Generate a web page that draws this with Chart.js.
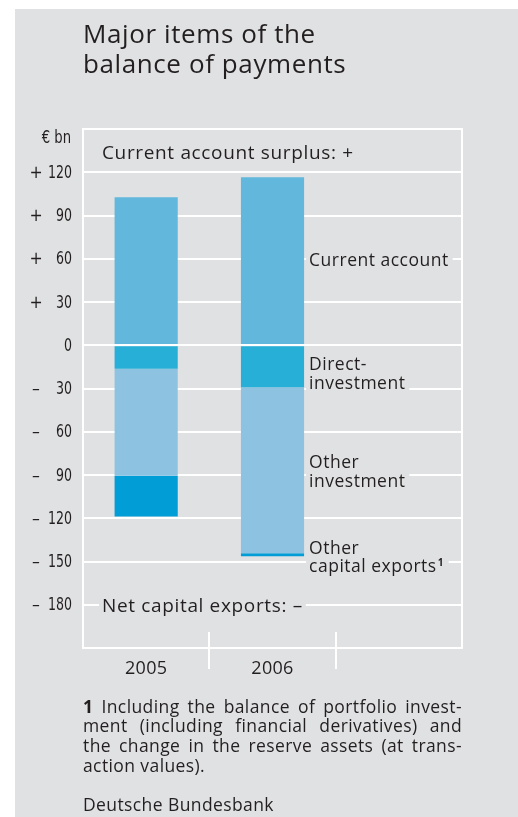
<!DOCTYPE html>
<html>
<head>
<meta charset="utf-8">
<script src="https://cdn.jsdelivr.net/npm/chart.js@4/dist/chart.umd.min.js"></script>
<style>
  html, body { margin: 0; padding: 0; background: #fff; }
  canvas { display: block; }
</style>
</head>
<body>
<canvas id="chart" width="518" height="817"></canvas>
<script>
// values in € bn
const years = ['2005', '2006', ''];
const currentAccount = [102.7, 116.5, null];
const directInvestment = [-16.3, -29.2, null];
const otherInvestment = [-74.3, -115, null];
const otherCapitalExports = [-28.2, -2.1, null];
const yTicks = [120, 90, 60, 30, 0, -30, -60, -90, -120, -150, -180];

const TEXT = '#231f20';
const PANEL = '#e0e1e3';
const SANS = '"Open Sans", "Noto Sans", sans-serif';
const NARROW = '"Liberation Sans Narrow", "DejaVu Sans Condensed", sans-serif';

const footLines = [
  '1 Including the balance of portfolio invest-',
  'ment (including financial derivatives) and',
  'the change in the reserve assets (at trans-',
  'action values).'
];

// labels next to the 2006 bar: gridline value they sit on, offset of first baseline
const seriesLabels = [
  { lines: ['Current account'], at: 60, dy: 7.5 },
  { lines: ['Direct-', 'investment'], at: -30, dy: -18.5 },
  { lines: ['Other', 'investment'], at: -90, dy: -7 },
  { lines: ['Other', 'capital exports'], at: -150, dy: -7.7, sup: '1' },
];

function hline(ctx, x1, x2, y) {
  ctx.beginPath();
  ctx.moveTo(x1, y);
  ctx.lineTo(x2, y);
  ctx.stroke();
}

function vline(ctx, x, y1, y2) {
  ctx.beginPath();
  ctx.moveTo(x, y1);
  ctx.lineTo(x, y2);
  ctx.stroke();
}

function setFont(ctx, font, spacing) {
  ctx.font = font;
  ctx.letterSpacing = (spacing || 0) + 'px';
}

// condensed text: squeeze horizontally around the anchor x
function narrowText(ctx, text, x, y, sx) {
  ctx.save();
  ctx.translate(x, y);
  ctx.scale(sx, 1);
  ctx.fillText(text, 0, 0);
  ctx.restore();
}

function justifyLine(ctx, text, x0, y, width, boldFirst, last) {
  const words = text.split(' ');
  const fontFor = (i) => (boldFirst && i === 0 ? 'bold ' : '') + '17.5px ' + SANS;
  const widths = words.map((w, i) => {
    setFont(ctx, fontFor(i), 0.4);
    return ctx.measureText(w).width;
  });
  const total = widths.reduce((s, w) => s + w, 0);
  setFont(ctx, fontFor(1), 0.4);
  let gap = ctx.measureText(' ').width;
  if (!last && words.length > 1) gap = Math.max(3, (width - total) / (words.length - 1));
  let x = x0;
  words.forEach((w, i) => {
    setFont(ctx, fontFor(i), 0.4);
    ctx.fillText(w, x, y);
    x += widths[i] + gap;
  });
}

const decor = {
  id: 'decor',
  beforeDraw(chart) {
    const ctx = chart.ctx;
    ctx.save();
    ctx.fillStyle = '#fff';
    ctx.fillRect(0, 0, chart.width, chart.height);
    ctx.fillStyle = PANEL;
    ctx.fillRect(15, 9, chart.width - 15, chart.height - 9);

    ctx.fillStyle = TEXT;
    ctx.textAlign = 'left';
    ctx.textBaseline = 'alphabetic';
    setFont(ctx, '26px ' + SANS, 0.6);
    ctx.fillText('Major items of the', 83, 43);
    ctx.fillText('balance of payments', 83, 73);
    setFont(ctx, '10px ' + SANS, 0);
    ctx.restore();
  },
  afterDatasetsDraw(chart) {
    const { ctx, chartArea: a, scales: { x, y } } = chart;
    ctx.save();
    ctx.strokeStyle = '#fff';
    ctx.lineWidth = 2;

    // zero line over the bars, frame sides
    hline(ctx, a.left, a.right, Math.round(y.getPixelForValue(0)));
    vline(ctx, a.left, a.top - 1, a.bottom + 1);
    vline(ctx, a.right, a.top - 1, a.bottom + 1);

    // category separators below the plot
    const half = (x.getPixelForValue(1) - x.getPixelForValue(0)) / 2;
    for (let i = 0; i < years.length - 1; i++) {
      const xx = Math.round(x.getPixelForValue(i) + half);
      vline(ctx, xx, a.bottom - 16, a.bottom + 21);
    }

    // y tick labels (condensed look)
    ctx.fillStyle = TEXT;
    setFont(ctx, '17.5px ' + NARROW, 0);
    ctx.textBaseline = 'middle';
    const sx = Math.min(1, 24 / ctx.measureText('120').width);
    yTicks.forEach((v) => {
      const py = y.getPixelForValue(v) + 1;
      ctx.textAlign = 'right';
      narrowText(ctx, String(Math.abs(v)), 72, py, sx);
      if (v !== 0) {
        ctx.textAlign = 'center';
        ctx.fillText(v > 0 ? '+' : '–', 36, py);
      }
    });
    ctx.textAlign = 'right';
    narrowText(ctx, '€ bn', 71, 138, Math.min(1, sx * 1.05));

    // year labels
    setFont(ctx, '18px ' + SANS, 0.3);
    ctx.textAlign = 'center';
    ctx.textBaseline = 'alphabetic';
    years.forEach((yr, i) => {
      if (yr) ctx.fillText(yr, x.getPixelForValue(i), 674);
    });

    // series labels beside the 2006 bar
    const bar = chart.getDatasetMeta(0).data[1];
    const barRight = bar.x + bar.width / 2;
    ctx.textAlign = 'left';
    const labFont = '17.5px ' + SANS;
    setFont(ctx, labFont, 0.5);
    seriesLabels.forEach((lab) => {
      const base = y.getPixelForValue(lab.at) + lab.dy;
      let w = Math.max(...lab.lines.map((l) => ctx.measureText(l).width));
      if (lab.sup) w += 8;
      const last = base + (lab.lines.length - 1) * 18.5;
      ctx.fillStyle = PANEL;
      ctx.fillRect(barRight + 2, base - 15, w + 7, last - base + 21);
      ctx.fillStyle = TEXT;
      lab.lines.forEach((l, j) => ctx.fillText(l, barRight + 5, base + j * 18.5));
      if (lab.sup) {
        const lw = ctx.measureText(lab.lines[lab.lines.length - 1]).width;
        setFont(ctx, 'bold 10px ' + SANS, 0);
        ctx.fillText(lab.sup, barRight + 6 + lw, last - 6);
        setFont(ctx, labFont, 0.5);
      }
    });

    // sign captions inside the plot
    setFont(ctx, '19px ' + SANS, 0.65);
    ctx.fillStyle = TEXT;
    ctx.fillText('Current account surplus: +', a.left + 19, 159);
    const net = 'Net capital exports: –';
    const nw = ctx.measureText(net).width;
    const ny = y.getPixelForValue(-180);
    ctx.fillStyle = PANEL;
    ctx.fillRect(a.left + 16, ny - 10, nw + 6, 20);
    ctx.fillStyle = TEXT;
    ctx.fillText(net, a.left + 19, 612);

    // footnote and source
    footLines.forEach((l, i) => {
      justifyLine(ctx, l, 83, 712.7 + i * 19.7, 379, i === 0, i === footLines.length - 1);
    });
    setFont(ctx, '17.5px ' + SANS, 0.4);
    ctx.fillText('Deutsche Bundesbank', 83, 811);
    setFont(ctx, '10px ' + SANS, 0);
    ctx.restore();
  }
};

const ctx = document.getElementById('chart').getContext('2d');
new Chart(ctx, {
  type: 'bar',
  data: {
    labels: years,
    datasets: [
      { label: 'Current account', data: currentAccount, backgroundColor: '#62b7dd' },
      { label: 'Direct investment', data: directInvestment, backgroundColor: '#27afd8' },
      { label: 'Other investment', data: otherInvestment, backgroundColor: '#8dc3e0' },
      { label: 'Other capital exports', data: otherCapitalExports, backgroundColor: '#009dd6' },
    ],
  },
  options: {
    responsive: false,
    devicePixelRatio: 1,
    animation: false,
    layout: { padding: { left: 83, right: 56, top: 129, bottom: 169 } },
    datasets: { bar: { barPercentage: 0.5, categoryPercentage: 1, borderWidth: 0 } },
    plugins: { legend: { display: false }, tooltip: { enabled: false } },
    scales: {
      x: { stacked: true, display: false },
      y: {
        stacked: true,
        min: -210,
        max: 150,
        ticks: { display: false, stepSize: 30 },
        border: { display: false },
        grid: { color: '#fff', lineWidth: 2, drawTicks: false },
        afterFit: (s) => { s.width = 0; },
      },
    },
  },
  plugins: [decor],
});
</script>
</body>
</html>
